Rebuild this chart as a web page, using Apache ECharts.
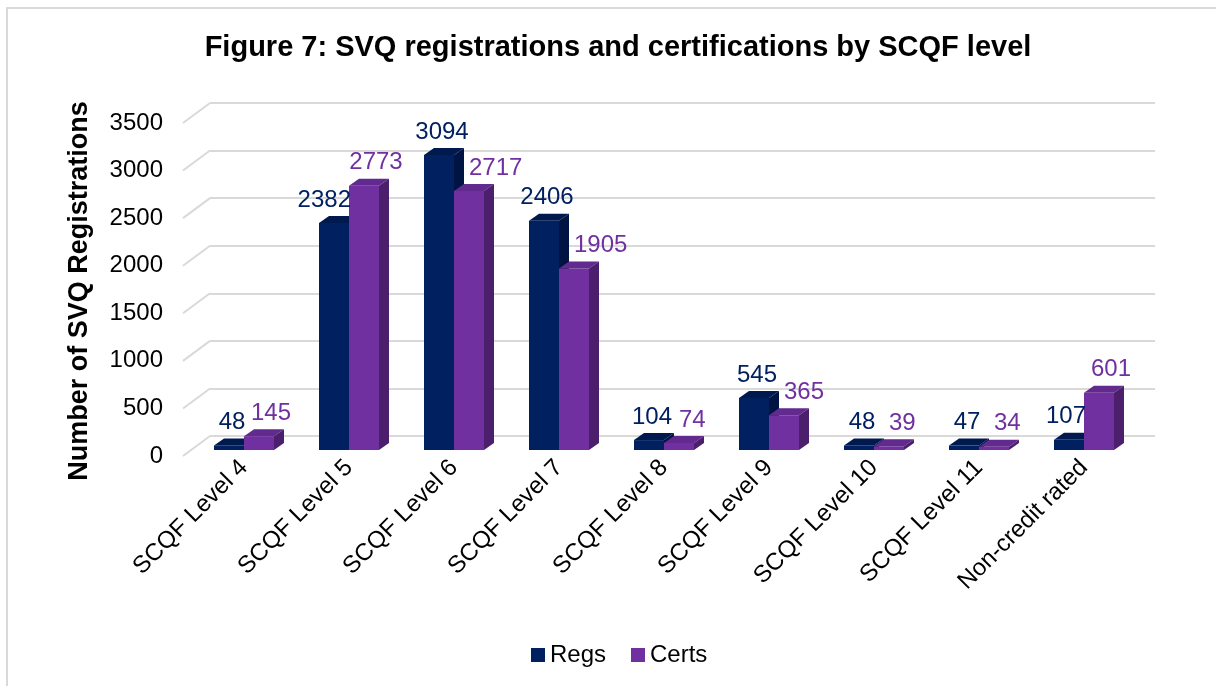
<!DOCTYPE html>
<html>
<head>
<meta charset="utf-8">
<script src="https://cdn.jsdelivr.net/npm/echarts@6/dist/echarts.min.js"></script>
<style>
  html, body { margin: 0; padding: 0; background: #fff; }
  #main { width: 1216px; height: 686px; }
</style>
</head>
<body>
<div id="main"></div>
<script>
// SCQF levels and counts
var levels = ['SCQF Level 4', 'SCQF Level 5', 'SCQF Level 6', 'SCQF Level 7', 'SCQF Level 8',
    'SCQF Level 9', 'SCQF Level 10', 'SCQF Level 11', 'Non-credit rated'];
var regs = [48, 2382, 3094, 2406, 104, 545, 48, 47, 107];
var certs = [145, 2773, 2717, 1905, 74, 365, 39, 34, 601];
var yTicks = [0, 500, 1000, 1500, 2000, 2500, 3000, 3500];

var FONT = '"Liberation Sans", Arial, sans-serif';
var LABEL_FONT = '24px ' + FONT;
var DX = 10, DY = -7;   // depth of the bars
var WX = -27, WY = 20;  // depth of the side wall

let chart = echarts.init(document.getElementById('main'));

// 3D-ish column: front face, top face, right face and label
function barRender(side, front, topC, sideC, labelC) {
    return function (params, api) {
        var idx = api.value(0), v = api.value(1);
        var other = side === 0 ? certs[idx] : regs[idx];
        var top = api.coord([idx, v]);
        var base = api.coord([idx, 0]);
        var w = api.size([1, 0])[0] * 30 / 105;
        var x0 = side === 0 ? top[0] - w : top[0];
        var x1 = x0 + w;
        var t = top[1], b = base[1];
        var txt = String(v);
        var tw = txt.length * 13.35; // digit width at 24px
        var lx;
        if (side === 0) {
            lx = x0 + w / 2 + 3;
            // keep clear of a taller neighbour on the right
            if (other > v) lx = Math.min(lx, x1 + 2 - tw / 2);
        } else {
            lx = x0 + w / 2 + 12;
            // keep clear of a taller neighbour on the left
            if (other > v) lx = Math.max(lx, x0 + DX + 5 + tw / 2);
        }
        return {
            type: 'group',
            children: [
                { type: 'rect', shape: { x: x0, y: t, width: w, height: b - t }, style: { fill: front } },
                { type: 'polygon', shape: { points: [[x0, t], [x1, t], [x1 + DX, t + DY], [x0 + DX, t + DY]] }, style: { fill: topC } },
                { type: 'polygon', shape: { points: [[x1, t], [x1 + DX, t + DY], [x1 + DX, b + DY], [x1, b]] }, style: { fill: sideC } },
                { type: 'text', x: lx, y: t + DY - 4, z2: 10,
                  style: { text: txt, fill: labelC, font: LABEL_FONT, align: 'center', verticalAlign: 'bottom' } }
            ]
        };
    };
}

option = {
    backgroundColor: '#fff',
    animation: false,
    title: {
        text: 'Figure 7: SVQ registrations and certifications by SCQF level',
        left: 613,
        textAlign: 'center',
        top: 28,
        textStyle: { fontFamily: FONT, fontSize: 29, fontWeight: 'bold', color: '#000' }
    },
    legend: {
        left: 526,
        top: 638,
        icon: 'rect',
        itemWidth: 14,
        itemHeight: 14,
        itemGap: 25,
        textStyle: { fontFamily: FONT, fontSize: 24, color: '#000' },
        data: ['Regs', 'Certs']
    },
    graphic: [
        { type: 'rect', shape: { x: 7, y: 8, width: 1230, height: 700 }, style: { fill: 'none', stroke: '#d9d9d9', lineWidth: 2 } },
        { type: 'text', x: 80, y: 291, rotation: Math.PI / 2,
          style: { text: 'Number of SVQ Registrations', font: 'bold 27px ' + FONT, fill: '#000', align: 'center', verticalAlign: 'middle' } }
    ],
    grid: [
        // back wall
        { left: 210, right: 61, top: 103, bottom: 250 },
        // front edge of the wall (tick labels)
        { left: 183, right: 88, top: 123, bottom: 230 },
        // plane of the bar front faces
        { left: 191.5, right: 79.5, top: 116.4, bottom: 236 }
    ],
    xAxis: [
        { type: 'category', gridIndex: 0, data: levels, show: false },
        { type: 'category', gridIndex: 1, data: levels, show: false },
        { type: 'category', gridIndex: 2, data: levels,
          axisLine: { show: false }, axisTick: { show: false },
          axisLabel: { rotate: 45, margin: 14, interval: 0, color: '#000', fontFamily: FONT, fontSize: 24 } }
    ],
    yAxis: [
        { type: 'value', gridIndex: 0, min: 0, max: 3500, interval: 500,
          axisLabel: { show: false }, axisLine: { show: false }, axisTick: { show: false },
          splitLine: { lineStyle: { color: '#d9d9d9', width: 2 } } },
        { type: 'value', gridIndex: 1, min: 0, max: 3500, interval: 500,
          axisLine: { show: false }, axisTick: { show: false }, splitLine: { show: false },
          axisLabel: { margin: 20, color: '#000', fontFamily: FONT, fontSize: 24,
                       formatter: function (v) { return String(v); } } },
        { type: 'value', gridIndex: 2, min: 0, max: 3500, show: false, splitLine: { show: false } }
    ],
    series: [
        {
            // diagonal wall lines joining front ticks to back gridlines
            type: 'custom',
            name: 'wall',
            xAxisIndex: 0, yAxisIndex: 0,
            silent: true,
            data: yTicks.map(function (v) { return [0, v]; }),
            renderItem: function (params, api) {
                var p = api.coord([0, api.value(1)]);
                var x = params.coordSys.x;
                return { type: 'line', shape: { x1: x, y1: p[1], x2: x + WX, y2: p[1] + WY },
                         style: { stroke: '#d9d9d9', lineWidth: 2 } };
            }
        },
        {
            type: 'custom',
            name: 'Regs',
            xAxisIndex: 2, yAxisIndex: 2,
            itemStyle: { color: '#002060' },
            data: regs.map(function (v, i) { return [i, v]; }),
            renderItem: barRender(0, '#002060', '#001a50', '#001444', '#002060')
        },
        {
            type: 'custom',
            name: 'Certs',
            xAxisIndex: 2, yAxisIndex: 2,
            itemStyle: { color: '#7030a0' },
            data: certs.map(function (v, i) { return [i, v]; }),
            renderItem: barRender(1, '#7030a0', '#62298e', '#4c1f6c', '#7030a0')
        }
    ]
};
chart.setOption(option);
window.onresize = chart.resize;
</script>
</body>
</html>
